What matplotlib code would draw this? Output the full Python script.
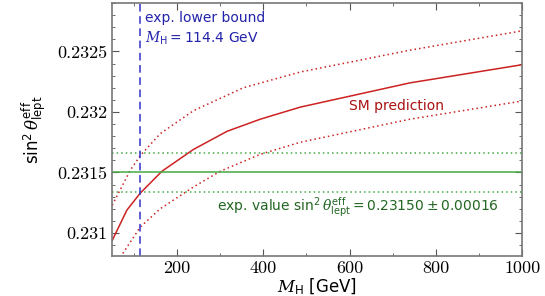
import numpy as np
import matplotlib
matplotlib.use("Agg")
import matplotlib.pyplot as plt
from matplotlib.ticker import MultipleLocator

plt.rcParams["mathtext.fontset"] = "custom"
plt.rcParams["mathtext.rm"] = "DejaVu Sans"
plt.rcParams["mathtext.it"] = "DejaVu Serif:italic"
plt.rcParams["mathtext.sf"] = "DejaVu Sans"

# SM-Vorhersage
mh_c = [50, 84, 115, 165, 238, 316, 393, 486, 740, 1000]
sm_central = [0.23094, 0.23119, 0.23133, 0.23151, 0.23169, 0.23184, 0.23194, 0.23204, 0.23224, 0.23239]
mh_u = [50, 92, 115, 161, 238, 354, 486, 740, 1000]
sm_upper = [0.23123, 0.23152, 0.23164, 0.23182, 0.23201, 0.23220, 0.23233, 0.23251, 0.23267]
mh_l = [68.5, 115, 161, 238, 300, 393, 486, 740, 1000]
sm_lower = [0.23080, 0.23105, 0.23120, 0.23138, 0.23151, 0.23165, 0.23175, 0.23194, 0.23209]

exp_value = 0.23150
exp_err = 0.00016
mh_bound = 114.4

fig, ax = plt.subplots(figsize=(5.45, 2.96), dpi=100)
fig.subplots_adjust(left=0.206, right=0.958, top=0.99, bottom=0.135)

red = "#cc2222"
ax.plot(mh_c, sm_central, color=red, lw=1.1)
ax.plot(mh_u, sm_upper, color=red, lw=1.1, ls=(0, (1, 2)))
ax.plot(mh_l, sm_lower, color=red, lw=1.1, ls=(0, (1, 2)))

green = "#44aa44"
ax.axhline(exp_value, color=green, lw=1.1)
ax.axhline(exp_value + exp_err, color=green, lw=1.1, ls=(0, (1, 2)))
ax.axhline(exp_value - exp_err, color=green, lw=1.1, ls=(0, (1, 2)))

ax.axvline(mh_bound, color="#3333cc", lw=1.1, ls=(0, (5, 3)))

ax.text(126, 0.232776, "exp. lower bound", color="#2222aa", fontsize=10, va="center")
ax.text(126, 0.23261, r"$M_\mathrm{H} = 114.4$ GeV", color="#2222aa", fontsize=10, va="center")
ax.text(599, 0.23205, "SM prediction", color="#aa1111", fontsize=10, va="center")
ax.text(620, 0.231215, r"exp. value $\sin^2\theta^\mathrm{eff}_\mathrm{lept} = 0.23150 \pm 0.00016$",
        color="#226622", fontsize=10, va="center", ha="center")

ax.set_xlim(50, 1000)
ax.set_ylim(0.23081, 0.23290)
ax.set_xticks([200, 400, 600, 800, 1000])
ax.set_yticks([0.231, 0.2315, 0.232, 0.2325])
ax.set_xticklabels(["200", "400", "600", "800", "1000"], fontfamily="cmr10", fontsize=13)
ax.set_yticklabels(["0.231", "0.2315", "0.232", "0.2325"], fontfamily="cmr10", fontsize=13)
ax.xaxis.set_minor_locator(MultipleLocator(100))
ax.yaxis.set_minor_locator(MultipleLocator(0.0001))
ax.tick_params(which="both", direction="in", top=True, right=True, color="#555555")
ax.tick_params(which="major", length=5)
ax.tick_params(which="minor", length=2.5)
for s in ax.spines.values():
    s.set_color("#777777")
    s.set_linewidth(1.2)

ax.set_xlabel(r"$M_\mathrm{H}$ [GeV]", fontsize=12, labelpad=0)
ax.set_ylabel(r"$\sin^2\theta^\mathrm{eff}_\mathrm{lept}$", fontsize=12, labelpad=6)

fig.savefig("out.png", dpi=100)
